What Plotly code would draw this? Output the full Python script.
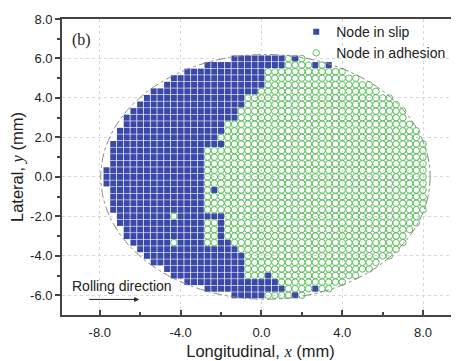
import numpy as np
import plotly.graph_objects as go

# ---------------- data ----------------
# rows of the discretised contact patch, top (y = 6.0 mm) to bottom (y = -6.0 mm)
row_y = [6.0, 5.667, 5.333, 5.0, 4.667, 4.333, 4.0, 3.667, 3.333, 3.0, 2.667, 2.333,
         2.0, 1.667, 1.333, 1.0, 0.667, 0.333, 0.0, -0.333, -0.667, -1.0, -1.333,
         -1.667, -2.0, -2.333, -2.667, -3.0, -3.333, -3.667, -4.0, -4.333, -4.667,
         -5.0, -5.333, -5.667, -6.0]
# x of the front-most (right-most) node in slip of the continuous slip zone, per row
slip_front_x = [1.0, 1.0, 0.333, 0.333, 0.0, -0.333, -0.667, -1.0, -1.333, -1.333,
                -1.667, -1.667, -2.333, -2.0, -3.0, -3.0, -3.0, -3.0, -3.0, -3.0,
                -3.0, -3.0, -3.0, -3.0, -2.0, -3.0, -3.0, -3.0, -3.0, -1.333,
                -1.0, -0.667, -0.667, -0.667, 0.667, 1.0, 0.0]
# isolated nodes in slip inside the adhesion zone (x, y)
extra_slip_x = [1.667, 2.667, 3.333, -2.333, -2.0, -2.0, -2.0, -2.0, -1.667, 0.333, 2.667, 1.667]
extra_slip_y = [6.0, 5.667, 5.667, -0.667, -2.333, -2.667, -3.0, -3.333, -3.333, -5.0, -5.667, -6.0]
# isolated nodes in adhesion inside the slip zone (x, y)
extra_adh_x = [-4.333, -4.333]
extra_adh_y = [-2.0, -3.333]

x_tick_vals = [-8, -4, 0, 4, 8]
x_tick_text = ["-8.0", "-4.0", "0.0", "4.0", "8.0"]
x_minor_vals = [-6, -2, 2, 6]
y_tick_vals = [-6, -4, -2, 0, 2, 4, 6, 8]
y_tick_text = ["-6.0", "-4.0", "-2.0", "0.0", "2.0", "4.0", "6.0", "8.0"]
y_minor_vals = [-5, -3, -1, 1, 3, 5, 7]

# ---------------- geometry of the node grid ----------------
pitch = 1.0 / 3.0
node_cx, node_a, node_b = 0.3, 8.0, 6.17     # node membership ellipse
ell_cx, ell_a, ell_b = 0.2, 8.15, 6.2        # dash-dot contact ellipse

extra_slip = {(round(x / pitch), round(y / pitch)) for x, y in zip(extra_slip_x, extra_slip_y)}
extra_adh = {(round(x / pitch), round(y / pitch)) for x, y in zip(extra_adh_x, extra_adh_y)}

sx, sy, ax_, ay_ = [], [], [], []
for y, front in zip(row_y, slip_front_x):
    j = round(y / pitch)
    for k in range(-30, 31):
        x = k * pitch
        if ((x - node_cx) / node_a) ** 2 + (y / node_b) ** 2 > 1.0:
            continue
        slip = x <= front + 1e-6
        if (k, j) in extra_slip:
            slip = True
        if (k, j) in extra_adh:
            slip = False
        if slip:
            sx.append(x); sy.append(y)
        else:
            ax_.append(x); ay_.append(y)

BLUE = "#3a48a8"
GREEN = "#5cbf5c"
AXC = "#444444"
FONT = "Liberation Sans"

fig = go.Figure()
fig.add_trace(go.Scatter(x=sx, y=sy, mode="markers", name="Node in slip",
                         marker=dict(symbol="square", size=6, color=BLUE, line=dict(width=0))))
fig.add_trace(go.Scatter(x=ax_, y=ay_, mode="markers", name="Node in adhesion",
                         marker=dict(symbol="circle-open", size=6.5, color=GREEN,
                                     line=dict(width=1, color=GREEN))))

fig.add_shape(type="circle", xref="x", yref="y",
              x0=ell_cx - ell_a, x1=ell_cx + ell_a, y0=-ell_b, y1=ell_b,
              line=dict(color="#8a8a8a", width=1, dash="dashdot"), layer="above")

fig.add_annotation(x=-8.9, y=6.95, xref="x", yref="y", text="(b)", showarrow=False,
                   font=dict(family="Liberation Serif", size=16, color="#222"))
fig.add_annotation(x=-6.9, y=-5.55, xref="x", yref="y", text="Rolling direction",
                   showarrow=False, font=dict(family=FONT, size=14, color="#222"))
fig.add_annotation(x=-6.05, y=-6.21, ax=-8.6, ay=-6.21, xref="x", yref="y",
                   axref="x", ayref="y", text="", showarrow=True,
                   arrowhead=2, arrowsize=1, arrowwidth=1, arrowcolor="#222")

# the page body adds an 8 px margin, so the figure is 8 px smaller than the window
fig.update_layout(
    width=451, height=353,
    margin=dict(l=54, r=0, t=11, b=46),
    paper_bgcolor="white", plot_bgcolor="white",
    font=dict(family=FONT, color="#222"),
    showlegend=True,
    legend=dict(x=0.59, y=1.01, xanchor="left", yanchor="top",
                bgcolor="rgba(0,0,0,0)", font=dict(family=FONT, size=14, color="#222"),
                tracegroupgap=0, itemwidth=30),
    xaxis=dict(range=[-9.87, 9.78], tickmode="array", tickvals=x_tick_vals,
               ticktext=x_tick_text, ticks="inside", ticklen=5, tickwidth=1.5,
               tickcolor=AXC, showline=True, linewidth=1.8, linecolor=AXC, mirror=True,
               showgrid=True, gridcolor="#d8d8d8", griddash="dot", gridwidth=1,
               zeroline=False, ticklabelstandoff=4,
               tickfont=dict(family=FONT, size=13, color="#222"),
               minor=dict(tickmode="array", tickvals=x_minor_vals, ticks="inside",
                          ticklen=3, tickwidth=1.5, tickcolor=AXC, showgrid=False),
               title=dict(text="Longitudinal, <i><span style='font-family:Liberation Serif'>x</span></i> (mm)",
                          font=dict(family=FONT, size=16.5, color="#222"), standoff=8)),
    yaxis=dict(range=[-7, 8], tickmode="array", tickvals=y_tick_vals,
               ticktext=y_tick_text, ticks="outside", ticklen=5, tickwidth=1.5,
               tickcolor=AXC, showline=True, linewidth=1.8, linecolor=AXC, mirror=False,
               showgrid=True, gridcolor="#d8d8d8", griddash="dot", gridwidth=1,
               zeroline=False,
               tickfont=dict(family=FONT, size=13, color="#222"),
               minor=dict(tickmode="array", tickvals=y_minor_vals, ticks="outside",
                          ticklen=3, tickwidth=1.5, tickcolor=AXC, showgrid=False),
               title=dict(text="Lateral, <i><span style='font-family:Liberation Serif'>y</span></i> (mm)",
                          font=dict(family=FONT, size=16.5, color="#222"), standoff=4)),
)

fig.write_html("out.html")
